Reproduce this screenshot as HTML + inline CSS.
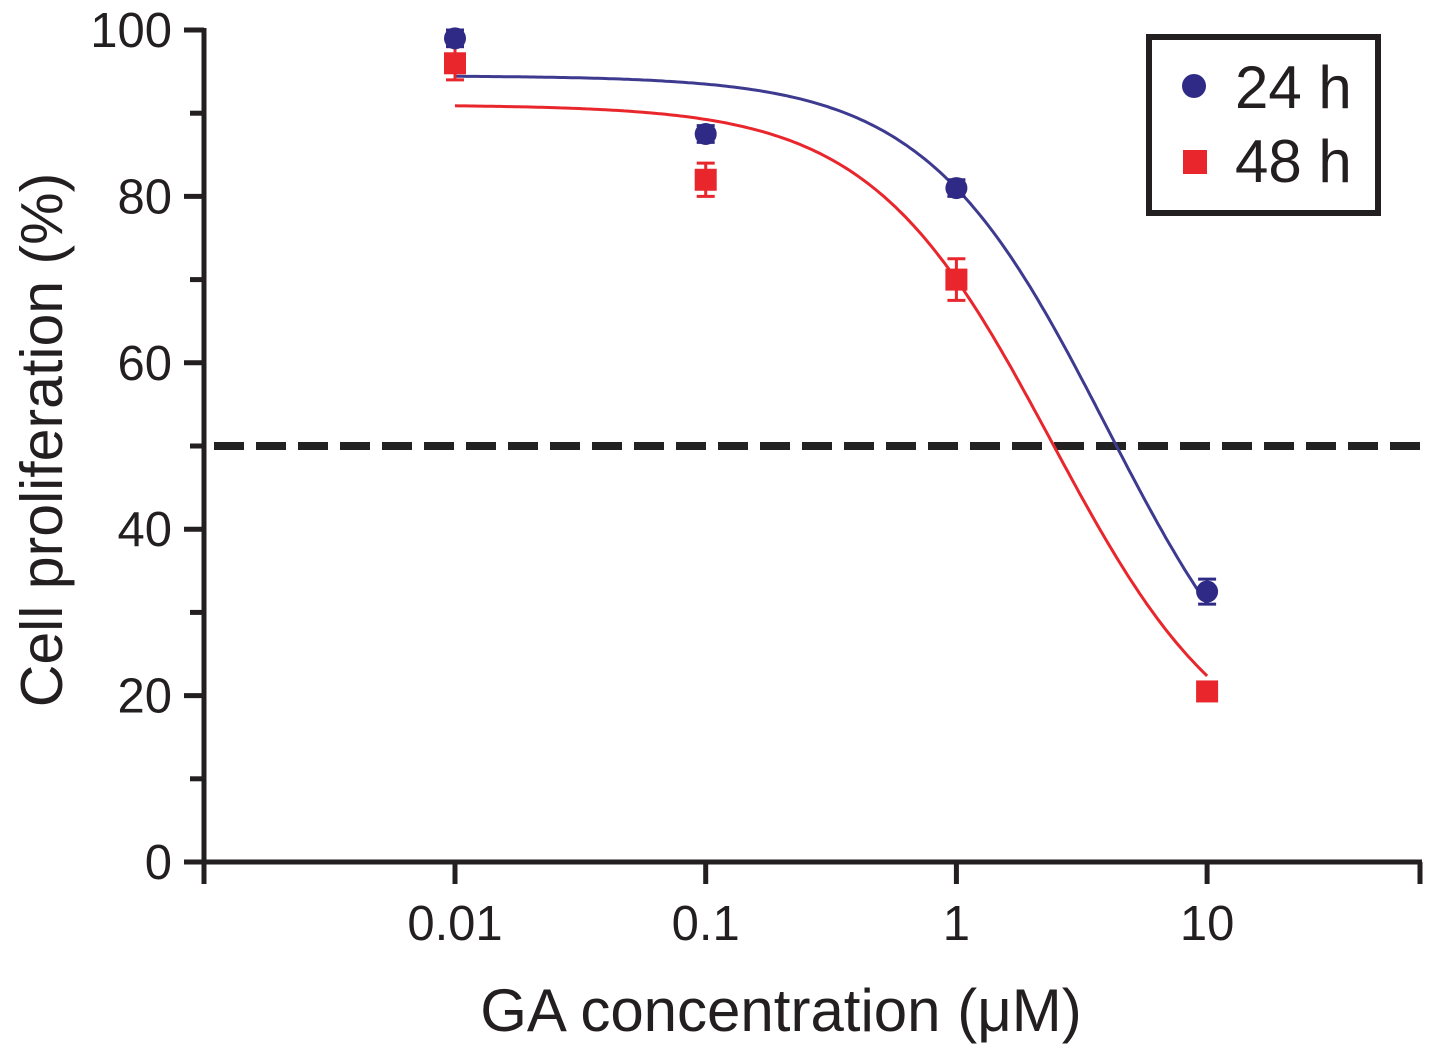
<!DOCTYPE html>
<html><head><meta charset="utf-8"><style>
html,body{margin:0;padding:0;background:#fff;}
svg{display:block;font-family:"Liberation Sans",Arial,sans-serif;}
</style></head><body>
<svg id="chart" width="1441" height="1057" viewBox="0 0 1441 1057">
<g id="axes"></g>
<g id="marks"></g>
<text x="62" y="440" transform="rotate(-90 62 440)" text-anchor="middle" font-size="59" fill="#231f20">Cell proliferation (%)</text>
<text x="781" y="1031" text-anchor="middle" font-size="60" fill="#231f20">GA concentration (μM)</text>
<g>
<rect x="1149" y="37" width="229" height="176" fill="#fff" stroke="#231f20" stroke-width="6"/>
<circle cx="1194" cy="86" r="12" fill="#2e2a85"/>
<text x="1235" y="108" font-size="60" fill="#231f20">24 h</text>
<rect x="1183" y="150" width="24" height="24" fill="#e8262b"/>
<text x="1235" y="182" font-size="60" fill="#231f20">48 h</text>
</g>
</svg>
<script>
const concentrations=[0.01,0.1,1,10];
const xTickLabels=["0.01","0.1","1","10"];
const yTicks=[0,20,40,60,80,100];
const values24=[99,87.5,81,32.5];
const values48=[96,82,70,20.5];
const err24=[1,1,1,1.5];
const err48=[2,2,2.5,1];
const fit24=[10,94.5,0.6,1.2];   // bottom, top, logIC50, hill
const fit48=[10,91,0.38,1.2];
const refLine=50;

const NS="http://www.w3.org/2000/svg";
const X0=204,XEND=1420,Y0=862,YTOP=30;
function xs(c){return 455+(Math.log10(c)+2)*250.7;}
function xl(l){return 455+(l+2)*250.7;}
function ys(v){return Y0-(v/100)*(Y0-YTOP);}
function mk(tag,attrs,parent){const e=document.createElementNS(NS,tag);for(const k in attrs)e.setAttribute(k,attrs[k]);parent.appendChild(e);return e;}
const axes=document.getElementById('axes'),marks=document.getElementById('marks');
const C="#231f20";
let e=mk('line',{x1:X0,y1:YTOP-2,x2:X0,y2:Y0+2,stroke:C,'stroke-width':5},axes);

e=mk('line',{x1:X0-2,y1:Y0,x2:XEND+2,y2:Y0,stroke:C,'stroke-width':5},axes);

for(let v=0;v<=100;v+=10){
 const major=v%20===0;
 e=mk('line',{x1:X0-(major?20:14),y1:ys(v),x2:X0,y2:ys(v),stroke:C,'stroke-width':5},axes);
 
}
yTicks.forEach(v=>{
 e=mk('text',{x:172,y:ys(v)+17,'text-anchor':'end','font-size':49,fill:C},axes);e.textContent=v;
 
});
[X0,XEND].concat(concentrations.map(xs)).forEach(x=>{
 e=mk('line',{x1:x,y1:Y0,x2:x,y2:Y0+22,stroke:C,'stroke-width':5},axes);
 
});
concentrations.forEach((c,i)=>{
 e=mk('text',{x:xs(c),y:Y0+78,'text-anchor':'middle','font-size':49,fill:C},axes);e.textContent=xTickLabels[i];
 
});
e=mk('line',{x1:X0+10,y1:ys(refLine),x2:XEND+4,y2:ys(refLine),stroke:"#222",'stroke-width':8,'stroke-dasharray':'30 12'},marks);

function curve(p){let d='';for(let i=0;i<=200;i++){const l=-2+3*i/200;const v=p[0]+(p[1]-p[0])/(1+Math.pow(10,p[3]*(l-p[2])));d+=(i?'L':'M')+xl(l).toFixed(1)+' '+ys(v).toFixed(1);}return d;}
e=mk('path',{d:curve(fit24),fill:'none',stroke:'#3d3a8f','stroke-width':3},marks);

e=mk('path',{d:curve(fit48),fill:'none',stroke:'#e8262b','stroke-width':3},marks);

concentrations.forEach((c,i)=>{
 const x=xs(c);
 e=mk('path',{d:`M${x-9} ${ys(values48[i]+err48[i])}H${x+9}M${x} ${ys(values48[i]+err48[i])}V${ys(values48[i]-err48[i])}M${x-9} ${ys(values48[i]-err48[i])}H${x+9}`,stroke:'#e8262b','stroke-width':3,fill:'none'},marks);
 
 e=mk('rect',{x:x-11,y:ys(values48[i])-11,width:22,height:22,fill:'#e8262b'},marks);
 
 e=mk('path',{d:`M${x-9} ${ys(values24[i]+err24[i])}H${x+9}M${x} ${ys(values24[i]+err24[i])}V${ys(values24[i]-err24[i])}M${x-9} ${ys(values24[i]-err24[i])}H${x+9}`,stroke:'#2e2a85','stroke-width':3,fill:'none'},marks);
 
 e=mk('circle',{cx:x,cy:ys(values24[i]),r:11,fill:'#2e2a85'},marks);
 
});
</script>
</body></html>
